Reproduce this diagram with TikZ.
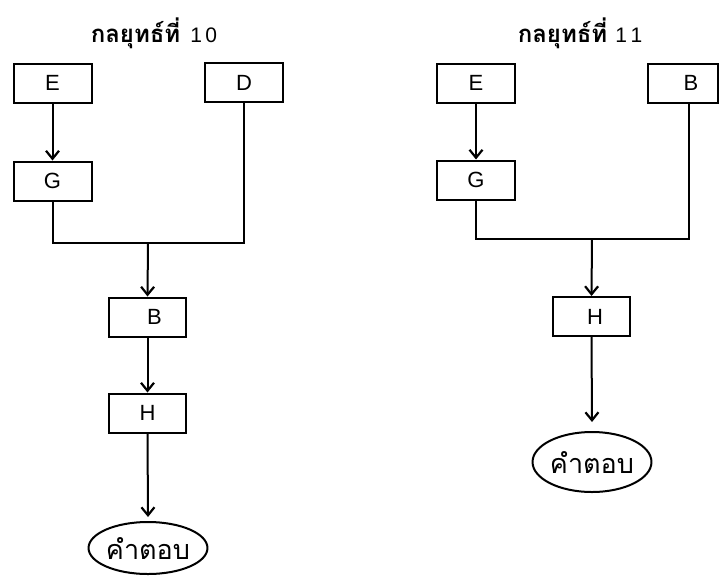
\documentclass[tikz,border=0pt]{standalone}
\usepackage{fontspec}
\setmainfont{Liberation Sans}
\newfontfamily\thai[Script=Thai]{Loma}
\usetikzlibrary{arrows.meta,shapes.geometric}
\begin{document}
\begin{tikzpicture}[x=1pt,y=-1pt,
  line width=2pt,
  box/.style={draw, rectangle, minimum width=78pt, minimum height=39pt,
              inner sep=0pt, font=\fontsize{22}{22}\selectfont},
  answer/.style={draw, ellipse, minimum width=114pt, inner sep=0pt,
                 font=\thai\fontsize{27}{27}\selectfont},
  title/.style={font=\thai\bfseries\fontsize{24}{24}\selectfont},
  arr/.style={-{Straight Barb[length=8pt,width=13pt,line width=2.2pt]}}]
\useasboundingbox (0,0) rectangle (720,576);

% strategy 10
\node[title] (t1) at (154,33) {กลยุทธ์ที่\hspace{10pt}{\normalfont\fontsize{21}{21}\selectfont 1\,0}};
\node[box] (E1) at (52.5,83) {E};
\node[box] (D1) at (244,82.5) {D};
\node[box] (G1) at (52.5,181) {G};
\node[box, minimum width=77pt] (B1) at (147.5,317) {\hspace*{14pt}B};
\node[box, minimum width=77pt] (H1) at (147.5,413) {H};
\node[answer, minimum height=52pt] (A1) at (148,548) {คำตอบ};
\coordinate (j1) at (148,243);
\coordinate (a1) at (148,517);

\draw[arr] (E1) -- (G1);
\draw (G1.south) |- (j1) -| (D1.south);
\draw[arr] (j1) -- (B1.north);
\draw[arr] (B1) -- (H1);
\draw[arr] (H1.south) -- (a1);

% strategy 11
\node[title] (t2) at (580,33) {กลยุทธ์ที่\hspace{8pt}{\normalfont\fontsize{21}{21}\selectfont 1\,1}};
\node[box] (E2) at (476,83) {E};
\node[box, minimum width=70pt] (B2) at (683,83) {\hspace*{16pt}B};
\node[box] (G2) at (476,180) {G};
\node[box, minimum width=77pt] (H2) at (591.5,316.5) {\hspace*{7pt}H};
\node[answer, minimum height=60pt] (A2) at (592,462) {คำตอบ};
\coordinate (b2) at (689,0);
\coordinate (j2) at (592,239);
\coordinate (a2) at (592,422);

\draw[arr] (E2) -- (G2);
\draw (G2.south) |- (j2) -| (b2 |- B2.south);
\draw[arr] (j2) -- (H2.north);
\draw[arr] (H2.south) -- (a2);
\end{tikzpicture}
\end{document}
